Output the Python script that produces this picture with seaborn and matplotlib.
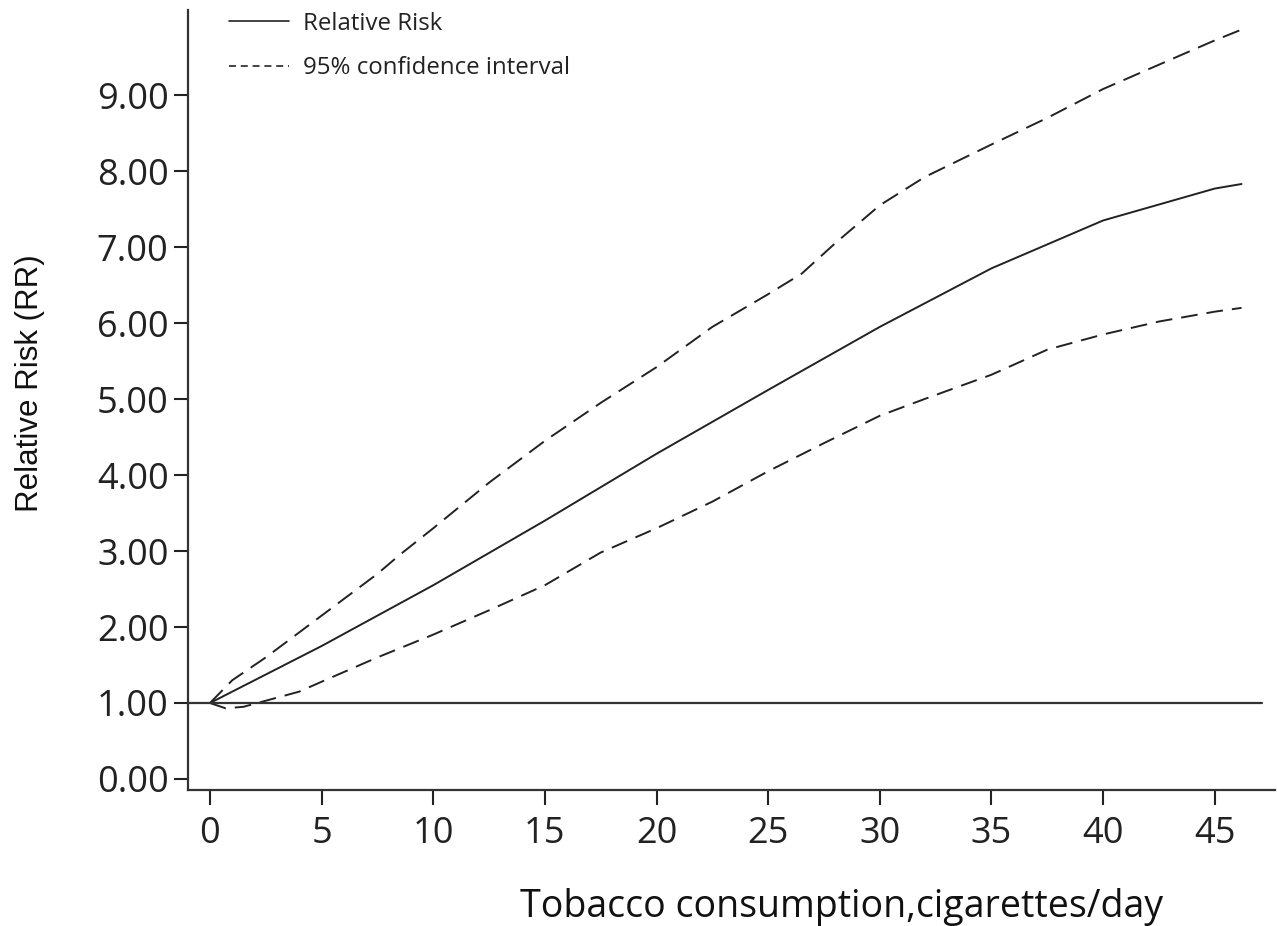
import numpy as np
import pandas as pd
import matplotlib
matplotlib.use("Agg")
import matplotlib.pyplot as plt
import seaborn as sns

# ---- data ----
rr_x = [0, 5, 10, 15, 20, 25, 30, 35, 40, 45, 46.2]
rr_y = [1.0, 1.75, 2.55, 3.40, 4.28, 5.12, 5.95, 6.72, 7.35, 7.77, 7.83]

up_x = [0, 1, 2.5, 5, 7.5, 8.5, 10, 12.5, 15, 17.5, 20, 22.5, 25, 26.5, 28, 30, 32, 35, 37.5, 40, 42.5, 45, 46.1]
up_y = [1.0, 1.3, 1.6, 2.15, 2.7, 2.95, 3.3, 3.9, 4.45, 4.95, 5.42, 5.95, 6.38, 6.65, 7.05, 7.55, 7.92, 8.35, 8.7, 9.08, 9.4, 9.72, 9.85]

lo_x = [0, 0.7, 1.5, 2.5, 4, 5, 7.5, 10, 12.5, 15, 17.5, 20, 22.5, 25, 27.5, 30, 32, 35, 37.5, 40, 42.5, 45, 46.2]
lo_y = [1.0, 0.93, 0.95, 1.03, 1.15, 1.28, 1.6, 1.9, 2.22, 2.55, 2.98, 3.3, 3.65, 4.05, 4.42, 4.78, 5.0, 5.32, 5.65, 5.85, 6.02, 6.15, 6.2]

x_ticks = [0, 5, 10, 15, 20, 25, 30, 35, 40, 45]
y_ticks = [0, 1, 2, 3, 4, 5, 6, 7, 8, 9]
ref_value = 1.0

series_labels = ["Relative Risk", "95% confidence interval"]
x_label = "Tobacco consumption,cigarettes/day"
y_label = "Relative Risk (RR)"

# ---- style ----
sns.set_theme(style="ticks")
plt.rcParams['font.family'] = ['Open Sans', 'DejaVu Sans']
plt.rcParams['lines.scale_dashes'] = False

fig = plt.figure(figsize=(12.77, 9.26), dpi=100)
ax_w = 1275 - 188
ax = fig.add_axes([188/1277, 136/926, ax_w/1277, (790-10)/926])

line_color = "#222222"
df_rr = pd.DataFrame({"x": rr_x, "y": rr_y})
df_up = pd.DataFrame({"x": up_x, "y": up_y})
df_lo = pd.DataFrame({"x": lo_x, "y": lo_y})

sns.lineplot(data=df_rr, x="x", y="y", ax=ax, color=line_color, lw=1.4,
             label=series_labels[0])
sns.lineplot(data=df_up, x="x", y="y", ax=ax, color=line_color, lw=1.4,
             label=series_labels[1])
sns.lineplot(data=df_lo, x="x", y="y", ax=ax, color=line_color, lw=1.4)
ax.lines[1].set_dashes([13, 6.5])
ax.lines[2].set_dashes([12, 6.5])

ax.set_xlim(-0.985, 47.7)
ax.set_ylim(-0.145, 10.12)
ax.axhline(ref_value, xmin=0, xmax=(47.1 + 0.985) / (47.7 + 0.985), color="#333333", lw=1.6)

ax.set_xticks(x_ticks)
ax.set_yticks(y_ticks)
ax.set_yticklabels([f"{v:.2f}" for v in y_ticks])
ax.tick_params(axis='both', labelsize=26, colors="#222222", width=1.5, direction='out')
ax.tick_params(axis='x', length=11, pad=8)
ax.tick_params(axis='y', length=10, pad=4)

for s in ["top", "right"]:
    ax.spines[s].set_visible(False)
for s in ["left", "bottom"]:
    ax.spines[s].set_linewidth(1.6)
    ax.spines[s].set_color("#333333")

ax.set_xlabel(x_label, fontsize=27, color="#111111")
ax.xaxis.set_label_coords((841 - 188) / ax_w, (790 - 888) / 780)
ax.set_ylabel(y_label, fontsize=22.5, color="#111111", family=['Liberation Sans', 'DejaVu Sans'])
ax.yaxis.set_label_coords((45 - 188) / ax_w, (790 - 383) / 780)

leg = ax.legend(loc="upper left", bbox_to_anchor=((229 - 188) / ax_w, 0.998),
                frameon=False, fontsize=17.3, handlelength=2.5, handletextpad=0.6,
                labelspacing=0.85, borderpad=0, borderaxespad=0)
leg.get_lines()[0].set_linewidth(1.2)
leg.get_lines()[1].set_linewidth(1.2)
leg.get_lines()[1].set_dashes([5, 3.5])
for t in leg.get_texts():
    t.set_color("#222222")

fig.savefig("out.png", dpi=100, facecolor="white")
